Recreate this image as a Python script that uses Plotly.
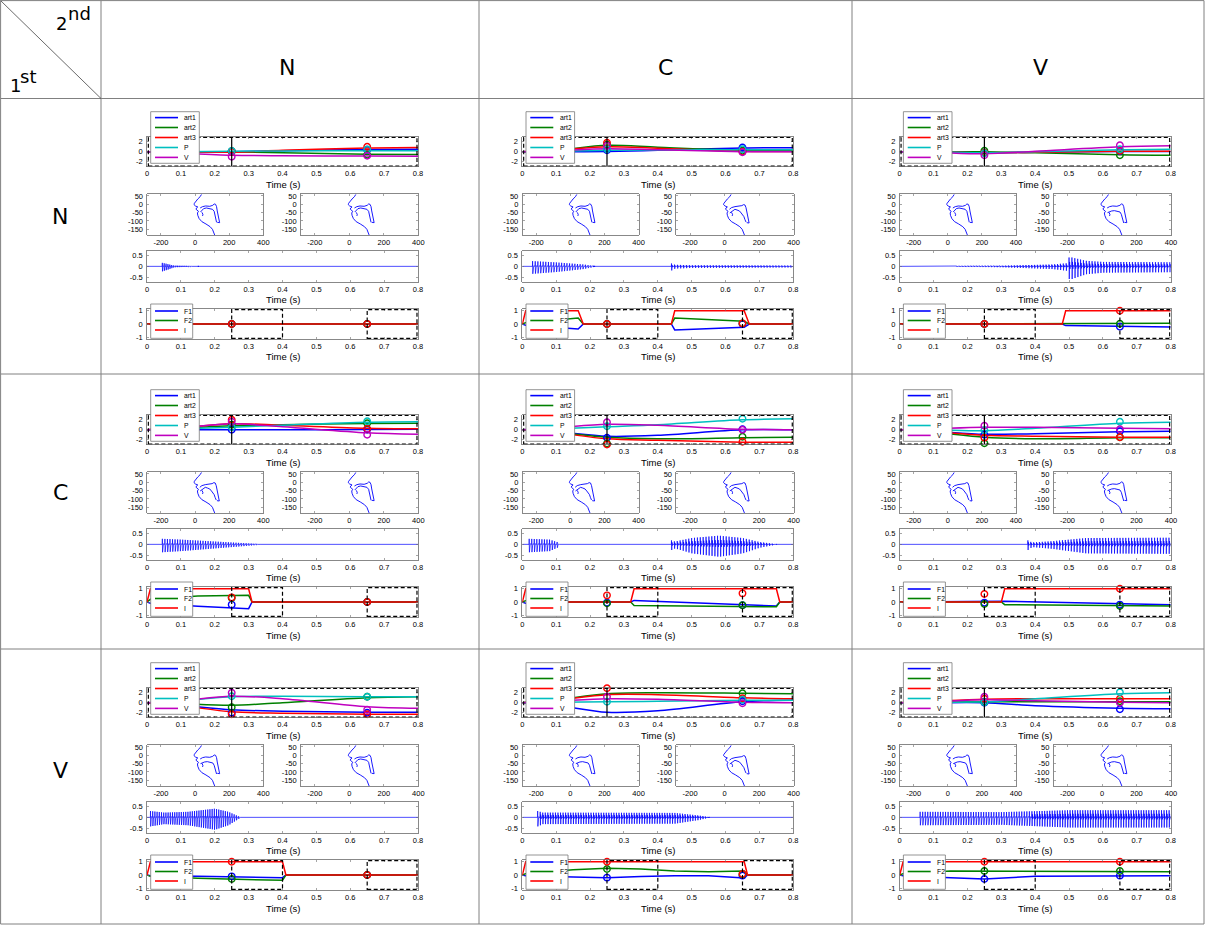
import numpy as np
import plotly.graph_objects as go

W, H = 1206, 931

SOUNDS = ['N', 'C', 'V']
PANELS = [r + c for r in SOUNDS for c in SOUNDS]   # first sound = row, second = column

# ---------------- articulatory trajectories ----------------
TRAJ_T = [0, 0.1, 0.25, 0.4, 0.65, 0.8]
ART1 = {'NN': [0, 0, 0.0, 0.2, 0.45, 0.5], 'NC': [0, 0, 0.05, 0.3, 0.75, 0.8], 'NV': [0, 0, -0.2, -0.1, 0.05, 0.05],
        'CN': [0, 0, 0.0, 0.0, 0.05, 0.1], 'CC': [0, -0.4, -1.3, -1.1, 0.0, 0.0], 'CV': [0, -0.3, -0.9, -0.8, -0.4, -0.3],
        'VN': [0, -0.5, -1.4, -1.7, -1.9, -1.9], 'VC': [0, -0.5, -1.9, -1.6, 0.2, 0.5], 'VV': [0, 0, 0.0, -0.6, -1.1, -1.2]}
ART2 = {'NN': [0, 0, 0, -0.2, -0.5, -0.55], 'NC': [0, 0.3, 1.3, 0.9, 0.3, 0.2], 'NV': [0, 0, 0, -0.2, -0.6, -0.7],
        'CN': [0, 0.3, 0.8, 1.0, 1.25, 1.3], 'CC': [0, -0.5, -1.5, -1.8, -1.6, -1.5], 'CV': [0, -0.5, -1.5, -1.8, -1.6, -1.6],
        'VN': [0, -0.2, -0.5, 0.0, 1.0, 1.2], 'VC': [0, 0.6, 1.8, 2.0, 1.9, 1.8], 'VV': [0, 0.1, 0.2, 0.2, 0.2, 0.2]}
ART3 = {'NN': [0, 0, -0.1, 0.3, 0.75, 0.85], 'NC': [0, 0.3, 1.0, 0.7, 0.1, 0.05], 'NV': [0, 0, -0.2, -0.1, 0.1, 0.1],
        'CN': [0, 0.4, 1.2, 0.9, 0.3, 0.2], 'CC': [0, -0.6, -1.8, -2.1, -2.5, -2.5], 'CV': [0, -0.4, -1.1, -1.3, -1.5, -1.5],
        'VN': [0, -0.6, -1.8, -2.1, -2.3, -2.3], 'VC': [0, 0.5, 1.6, 1.6, 1.0, 0.8], 'VV': [0, 0.3, 0.7, 0.8, 0.8, 0.8]}
PV = {'NN': [0, 0, 0.1, 0.15, 0.2, 0.2], 'NC': [0, 0.1, 0.3, 0.35, 0.4, 0.4], 'NV': [0, 0, -0.2, 0.0, 0.4, 0.5],
      'CN': [0, 0.2, 0.5, 0.9, 1.5, 1.6], 'CC': [0, 0.2, 0.6, 1.0, 2.0, 2.2], 'CV': [0, 0, -0.2, 0.3, 1.3, 1.5],
      'VN': [0, 0.4, 1.2, 1.3, 1.2, 1.2], 'VC': [0, 0.1, 0.2, 0.3, 0.5, 0.5], 'VV': [0, 0.1, 0.2, 0.8, 1.8, 2.0]}
VV_ = {'NN': [0, -0.3, -0.7, -0.8, -0.85, -0.9], 'NC': [0, 0.2, 0.6, 0.4, 0.0, 0.0], 'NV': [0, -0.1, -0.4, 0.1, 1.0, 1.2],
       'CN': [0, 0.4, 1.2, 0.6, -0.6, -0.9], 'CC': [0, 0.4, 1.1, 0.9, 0.1, 0.0], 'CV': [0, 0.2, 0.5, 0.5, 0.3, 0.2],
       'VN': [0, 0.4, 1.3, 0.8, -0.8, -1.1], 'VC': [0, 0.3, 0.8, 0.7, 0.1, 0.0], 'VV': [0, 0.2, 0.6, 0.4, 0.1, 0.0]}

CIRC_T = [0.25, 0.65]
ART1_C = {'NN': [0.1, 0.4], 'NC': [0.3, 0.85], 'NV': [-0.2, 0.1], 'CN': [0.0, 0.05], 'CC': [-1.6, 0.1],
          'CV': [-1.0, -0.3], 'VN': [-2.0, -2.0], 'VC': [-3.4, 0.3], 'VV': [0.0, -1.3]}
ART2_C = {'NN': [0.1, -0.6], 'NC': [1.4, 0.2], 'NV': [0.2, -0.7], 'CN': [1.0, 1.3], 'CC': [-2.75, -1.4],
          'CV': [-2.7, -1.5], 'VN': [-0.9, 1.2], 'VC': [3.15, 1.9], 'VV': [0.2, 0.3]}
ART3_C = {'NN': [0.0, 1.0], 'NC': [1.8, 0.0], 'NV': [-0.2, 0.2], 'CN': [2.0, 0.2], 'CC': [-2.95, -2.4],
          'CV': [-1.6, -1.5], 'VN': [-2.3, -2.3], 'VC': [2.9, 0.9], 'VV': [0.8, 0.8]}
PV_C = {'NN': [0.15, 0.45], 'NC': [0.5, 0.5], 'NV': [-0.3, 0.5], 'CN': [0.5, 1.7], 'CC': [0.7, 2.2],
        'CV': [-0.1, 1.6], 'VN': [1.3, 1.2], 'VC': [0.2, 0.6], 'VV': [0.1, 2.1]}
VV_C = {'NN': [-1.0, -0.8], 'NC': [1.2, -0.1], 'NV': [-0.7, 1.3], 'CN': [1.6, -1.0], 'CC': [1.5, 0.0],
        'CV': [0.8, 0.1], 'VN': [2.0, -1.4], 'VC': [1.2, -0.1], 'VV': [1.2, 0.0]}

# ---------------- formants / intensity ----------------
FORM_T = {'NN': [0, 0.8],
          'NC': [0, 0.01, 0.165, 0.18, 0.44, 0.45, 0.655, 0.67, 0.8],
          'NV': [0, 0.48, 0.49, 0.8],
          'CN': [0, 0.01, 0.15, 0.3, 0.31, 0.8],
          'CC': [0, 0.01, 0.11, 0.12, 0.32, 0.33, 0.75, 0.76, 0.8],
          'CV': [0, 0.3, 0.31, 0.8],
          'VN': [0, 0.01, 0.15, 0.25, 0.4, 0.41, 0.8],
          'VC': [0, 0.01, 0.15, 0.25, 0.35, 0.45, 0.55, 0.64, 0.655, 0.665, 0.8],
          'VV': [0, 0.01, 0.15, 0.25, 0.4, 0.8]}
FORM_F1 = {'NN': [0, 0], 'NC': [0, -0.1, -0.38, 0, 0, -0.45, -0.25, 0, 0], 'NV': [0, 0, -0.12, -0.22],
           'CN': [0, -0.1, -0.32, -0.5, 0, 0], 'CC': [0, -0.1, -0.2, 0, 0, 0.12, -0.3, 0, 0], 'CV': [0, 0, 0.05, -0.2],
           'VN': [0, -0.05, -0.1, -0.12, -0.2, 0, 0], 'VC': [0, -0.05, -0.15, -0.2, -0.12, -0.05, -0.05, -0.2, -0.22, 0, 0],
           'VV': [0, -0.05, -0.2, -0.3, -0.1, -0.05]}
FORM_F2 = {'NN': [0, 0], 'NC': [0, 0.1, 0.45, 0, 0, 0.45, 0.2, 0, 0], 'NV': [0, 0, 0.0, 0.05],
           'CN': [0, 0.2, 0.45, 0.5, 0, 0], 'CC': [0, 0.1, 0.2, 0, 0, -0.26, -0.36, 0, 0], 'CV': [0, 0, -0.2, -0.3],
           'VN': [0, -0.1, -0.25, -0.3, -0.4, 0, 0], 'VC': [0, 0.1, 0.4, 0.5, 0.45, 0.3, 0.25, 0.3, 0.3, 0, 0],
           'VV': [0, 0.1, 0.3, 0.3, 0.25, 0.25]}
FORM_I = {'NN': [0, 0], 'NC': [0, 1, 1, 0, 0, 1, 1, 0, 0], 'NV': [0, 0, 1, 1],
          'CN': [0, 1, 1, 1, 0, 0], 'CC': [0, 1, 1, 0, 0, 1, 1, 0, 0], 'CV': [0, 0, 1, 1],
          'VN': [0, 1, 1, 1, 1, 0, 0], 'VC': [0, 1, 1, 1, 1, 1, 1, 1, 1, 0, 0],
          'VV': [0, 1, 1, 1, 1, 1]}
F1_C = {'NN': [0, 0], 'NC': [0, 0.0], 'NV': [0, -0.2], 'CN': [-0.2, 0], 'CC': [-0.05, -0.25],
        'CV': [-0.05, -0.2], 'VN': [-0.1, 0], 'VC': [-0.2, -0.05], 'VV': [-0.3, -0.05]}
F2_C = {'NN': [0, 0], 'NC': [0, 0.05], 'NV': [0, 0.02], 'CN': [0.3, 0], 'CC': [-0.1, -0.25],
        'CV': [-0.15, -0.3], 'VN': [-0.3, 0], 'VC': [0.45, 0.05], 'VV': [0.3, 0.3]}
I_C = {'NN': [0, 0], 'NC': [0, 0.05], 'NV': [0, 1.0], 'CN': [0.35, 0], 'CC': [0.5, 0.65],
       'CV': [0.6, 1.0], 'VN': [1.0, 0], 'VC': [1.0, 0.08], 'VV': [1.0, 1.0]}

# ---------------- waveform envelopes: (start, end, pitch period, [(t, amplitude)]) ----------------
WAVE_ENV = {
    'NN': [(0.045, 0.15, 0.0055, [(0.045, 0.22), (0.06, 0.15), (0.08, 0.04), (0.15, 0.01)])],
    'NC': [(0.03, 0.21, 0.0078, [(0.03, 0.33), (0.1, 0.25), (0.18, 0.12), (0.21, 0.03)]),
           (0.44, 0.8, 0.0088, [(0.44, 0.18), (0.45, 0.1), (0.5, 0.07), (0.8, 0.05)])],
    'NV': [(0.1, 0.8, 0.0085, [(0.1, 0.01), (0.3, 0.04), (0.45, 0.12), (0.495, 0.2), (0.5, 0.6),
                               (0.55, 0.35), (0.6, 0.28), (0.8, 0.26)])],
    'CN': [(0.045, 0.335, 0.0075, [(0.045, 0.35), (0.1, 0.3), (0.2, 0.18), (0.3, 0.06), (0.335, 0.01)])],
    'CC': [(0.02, 0.11, 0.0075, [(0.02, 0.35), (0.08, 0.3), (0.11, 0.1)]),
           (0.44, 0.75, 0.0085, [(0.44, 0.25), (0.45, 0.18), (0.5, 0.4), (0.58, 0.55), (0.65, 0.4),
                                 (0.7, 0.15), (0.75, 0.01)])],
    'CV': [(0.1, 0.2, 0.0085, [(0.1, 0.01), (0.2, 0.01)]),
           (0.378, 0.8, 0.0085, [(0.378, 0.25), (0.39, 0.12), (0.45, 0.2), (0.55, 0.4), (0.8, 0.42)])],
    'VN': [(0.01, 0.275, 0.0065, [(0.01, 0.4), (0.05, 0.3), (0.12, 0.35), (0.2, 0.55), (0.24, 0.35), (0.275, 0.02)])],
    'VC': [(0.045, 0.55, 0.0075, [(0.045, 0.4), (0.06, 0.3), (0.45, 0.28), (0.52, 0.12), (0.55, 0.02)])],
    'VV': [(0.06, 0.8, 0.0075, [(0.06, 0.35), (0.3, 0.33), (0.5, 0.45), (0.8, 0.45)])],
}
PULSE_SHAPE = [(0.0, 0.0), (0.05, 0.7), (0.13, -1.0), (0.24, 0.35), (0.37, -0.2), (0.52, 0.08), (0.7, -0.02)]

# ---------------- vocal tract outlines ----------------
FACE_X = [38, 30, 16, 4, -4, -6, 2, 16, 8, 6, 14, 20, 14, 16, 24, 40, 64, 88, 102, 110, 115]
FACE_Y = [60, 46, 32, 18, 6, -2, -10, -16, -22, -30, -36, -42, -52, -66, -86, -104, -118, -134, -150, -168, -184]
PAL_X = {'N': [30, 44, 62, 86, 104, 112, 120, 126, 130, 136, 142, 144, 130],
         'C': [28, 40, 60, 84, 100, 110, 118, 124, 128, 134, 140, 142, 128],
         'V': [30, 44, 62, 86, 104, 112, 120, 126, 130, 136, 142, 144, 130]}
PAL_Y = {'N': [-22, -14, -10, -12, -6, 2, 0, -14, -40, -72, -98, -110, -108],
         'C': [-30, -20, -14, -12, -8, -2, -4, -20, -46, -76, -100, -112, -110],
         'V': [-22, -14, -10, -12, -6, 2, 0, -14, -40, -72, -98, -110, -108]}
TONG_X = {'N': [32, 40, 50, 66, 86, 102, 112, 116, 120, 124, 126],
          'C': [30, 38, 48, 60, 72, 86, 96, 104, 112, 118, 124],
          'V': [32, 42, 56, 72, 90, 104, 112, 118, 122, 125, 126]}
TONG_Y = {'N': [-46, -34, -26, -22, -24, -30, -42, -60, -82, -100, -108],
          'C': [-52, -46, -36, -30, -34, -40, -52, -60, -74, -92, -106],
          'V': [-50, -44, -40, -38, -40, -46, -60, -80, -98, -108, -112]}
JAW_X = [40, 46, 44]
JAW_Y = [-48, -60, -70]

TIME_TICKS = [0, 0.1, 0.2, 0.3, 0.4, 0.5, 0.6, 0.7, 0.8]
TIME_LABELS = ['0', '0.1', '0.2', '0.3', '0.4', '0.5', '0.6', '0.7', '0.8']

BLUE, GREEN, RED, CYAN, MAG = '#0000ff', '#008000', '#ff0000', '#00bfbf', '#bf00bf'
FONT = 'Liberation Sans, Arial, sans-serif'

# layout geometry (px, panel row 1 / col 1), offsets per column / row
R_TRAJ = (147, 137, 418, 166.5)
R_VTL = (147.3, 194.3, 263.3, 235)
R_VTR = (301, 194.3, 418.3, 235)
R_WAVE = (147, 251, 418, 281.7)
R_FORM = (147, 309, 418, 339)
COL_DX = [0, 375.3, 752.7]
ROW_DY = [0, 278, 551]

fig = go.Figure()
layout = dict(width=W, height=H, margin=dict(l=0, r=0, t=0, b=0, pad=0, autoexpand=False),
              paper_bgcolor='white', plot_bgcolor='white', showlegend=False)
shapes, annots = [], []

AX = dict(showline=True, linecolor='#6a6a6a', linewidth=0.8, mirror='allticks', ticks='inside', ticklen=2,
          tickwidth=0.6, tickcolor='#6a6a6a', showgrid=False, zeroline=False, fixedrange=True,
          tickfont=dict(size=7.5, family=FONT, color='#000000'))
counter = [0]


def px(x, y):
    return x / W, 1 - y / H


def new_axes(rect, dx, dy, xr, yr, xt, xtt, yt, ytt):
    counter[0] += 1
    k = counter[0]
    s = '' if k == 1 else str(k)
    x0, y0, x1, y1 = rect[0] + dx, rect[1] + dy, rect[2] + dx, rect[3] + dy
    layout['xaxis' + s] = dict(domain=[x0 / W, x1 / W], range=xr, anchor='y' + s, tickvals=xt, ticktext=xtt, **AX)
    layout['yaxis' + s] = dict(domain=[1 - y1 / H, 1 - y0 / H], range=yr, anchor='x' + s, tickvals=yt,
                               ticktext=ytt, ticklabelstandoff=2, **AX)
    return 'x' + s, 'y' + s


def line_px(x0, y0, x1, y1, color, width, dash=None):
    a, b = px(x0, y0)
    c, d = px(x1, y1)
    ln = dict(color=color, width=width)
    if dash:
        ln['dash'] = dash
    shapes.append(dict(type='line', xref='paper', yref='paper', x0=a, y0=b, x1=c, y1=d, line=ln))


def text_px(x, y, txt, size, family=FONT, xanchor='center', yanchor='middle'):
    a, b = px(x, y)
    annots.append(dict(xref='paper', yref='paper', x=a, y=b, text=txt, showarrow=False, xanchor=xanchor,
                       yanchor=yanchor, font=dict(size=size, family=family, color='black')))


def legend_box(x0, y0, x1, y1, items, rows, dx, dy):
    a, b = px(x0 + dx, y1 + dy)
    c, d = px(x1 + dx, y0 + dy)
    shapes.append(dict(type='rect', xref='paper', yref='paper', x0=a, y0=b, x1=c, y1=d,
                       fillcolor='white', line=dict(color='#7a7a7a', width=0.8)))
    for (lab, col), ry in zip(items, rows):
        line_px(155 + dx, ry + dy, 178 + dx, ry + dy, col, 1.6)
        text_px(182.3 + dx, ry + dy, lab, 6.8, xanchor='left')


def dashed_rect(xa, ya, x0, x1, y0, y1):
    shapes.append(dict(type='rect', xref=xa, yref=ya, x0=x0, x1=x1, y0=y0, y1=y1,
                       line=dict(color='black', width=1.2, dash='4px,2.5px')))


def build_wave(segs):
    xs, ys = [0.0], [0.0]
    for ts, te, per, env in segs:
        et = [e[0] for e in env]
        ea = [e[1] for e in env]
        t = ts
        while t < te:
            a = float(np.interp(t, et, ea))
            for frac, rel in PULSE_SHAPE:
                xs.append(t + frac * per)
                ys.append(rel * a)
            t += per
        xs.append(te)
        ys.append(0.0)
    xs.append(0.8)
    ys.append(0.0)
    return xs, ys


def vt_xy(sound):
    xs = FACE_X + [None] + PAL_X[sound] + [None] + TONG_X[sound] + [None] + JAW_X
    ys = FACE_Y + [None] + PAL_Y[sound] + [None] + TONG_Y[sound] + [None] + JAW_Y
    return xs, ys


for ri, rs in enumerate(SOUNDS):
    for ci, cs in enumerate(SOUNDS):
        p = rs + cs
        dx, dy = COL_DX[ci], ROW_DY[ri]

        # --- trajectories
        xa, ya = new_axes(R_TRAJ, dx, dy, [0, 0.8], [-2.95, 2.95], TIME_TICKS, TIME_LABELS,
                          [-2, 0, 2], ['-2', '0', '2'])
        for data, col in [(ART1, BLUE), (ART2, GREEN), (ART3, RED), (PV, CYAN), (VV_, MAG)]:
            fig.add_trace(go.Scatter(x=TRAJ_T, y=data[p], mode='lines', xaxis=xa, yaxis=ya, hoverinfo='skip',
                                     line=dict(color=col, width=1.5, shape='spline', smoothing=0.9)))
        for data, col in [(ART1_C, BLUE), (ART2_C, GREEN), (ART3_C, RED), (PV_C, CYAN), (VV_C, MAG)]:
            fig.add_trace(go.Scatter(x=CIRC_T, y=data[p], mode='markers', xaxis=xa, yaxis=ya, hoverinfo='skip',
                                     cliponaxis=False,
                                     marker=dict(symbol='circle-open', size=6.5, color=col,
                                                 line=dict(color=col, width=1.4))))
        dashed_rect(xa, ya, 0.004, 0.797, -2.85, 2.85)
        shapes.append(dict(type='line', xref=xa, yref=ya, x0=0.25, x1=0.25, y0=-2.85, y1=2.85,
                           line=dict(color='black', width=1.2)))
        legend_box(150.7, 111.7, 199.3, 163.3,
                   [('art1', BLUE), ('art2', GREEN), ('art3', RED), ('P', CYAN), ('V', MAG)],
                   [117.6, 127.5, 137.5, 147.5, 157.4], dx, dy)
        text_px(282.5 + dx, 184 + dy, 'Time (s)', 9.5)

        # --- vocal tract shapes
        for rect, snd in [(R_VTL, rs), (R_VTR, cs)]:
            xa2, ya2 = new_axes(rect, dx, dy, [-280, 400], [-184, 60], [-200, 0, 200, 400],
                                ['-200', '0', '200', '400'], [50, 0, -50, -100, -150],
                                ['50', '0', '-50', '-100', '-150'])
            vx, vy = vt_xy(snd)
            fig.add_trace(go.Scatter(x=vx, y=vy, mode='lines', xaxis=xa2, yaxis=ya2, hoverinfo='skip',
                                     line=dict(color=BLUE, width=0.9)))

        # --- waveform
        xa3, ya3 = new_axes(R_WAVE, dx, dy, [0, 0.8], [-0.68, 0.68], TIME_TICKS, TIME_LABELS,
                            [-0.5, 0, 0.5], ['-0.5', '0', '0.5'])
        wx, wy = build_wave(WAVE_ENV[p])
        fig.add_trace(go.Scatter(x=wx, y=wy, mode='lines', xaxis=xa3, yaxis=ya3, hoverinfo='skip',
                                 line=dict(color=BLUE, width=0.7)))
        text_px(282.5 + dx, 299.3 + dy, 'Time (s)', 9.5)

        # --- formants
        xa4, ya4 = new_axes(R_FORM, dx, dy, [0, 0.8], [-1.13, 1.13], TIME_TICKS, TIME_LABELS,
                            [-1, 0, 1], ['-1', '0', '1'])
        for data, col in [(FORM_F1, BLUE), (FORM_F2, GREEN), (FORM_I, RED)]:
            fig.add_trace(go.Scatter(x=FORM_T[p], y=data[p], mode='lines', xaxis=xa4, yaxis=ya4,
                                     hoverinfo='skip', line=dict(color=col, width=1.5)))
        for data, col in [(F1_C, BLUE), (F2_C, GREEN), (I_C, RED)]:
            fig.add_trace(go.Scatter(x=CIRC_T, y=data[p], mode='markers', xaxis=xa4, yaxis=ya4,
                                     hoverinfo='skip', cliponaxis=False,
                                     marker=dict(symbol='circle-open', size=6.5, color=col,
                                                 line=dict(color=col, width=1.4))))
        dashed_rect(xa4, ya4, 0.25, 0.4, -1.09, 1.09)
        dashed_rect(xa4, ya4, 0.65, 0.797, -1.09, 1.09)
        legend_box(150.7, 304, 192.7, 338.3, [('F1', BLUE), ('F2', GREEN), ('I', RED)],
                   [311, 320.5, 330], dx, dy)
        text_px(282.5 + dx, 357 + dy, 'Time (s)', 9.5)

# ---------------- table grid and headers ----------------
GRID_C = '#808080'
for y in [0.6, 98.5, 374, 649, 924]:
    line_px(0.6, y, 1204, y, GRID_C, 1)
for x in [0.6, 101, 479, 852, 1204]:
    line_px(x, 0.6, x, 924, GRID_C, 1)
line_px(0.6, 0.6, 101, 98.5, '#444444', 0.8)

HDR = 'DejaVu Sans'
COL_HDR_X = [287, 665, 1040]
ROW_HDR_Y = [217, 492, 770]
for s, x in zip(SOUNDS, COL_HDR_X):
    text_px(x, 68, s, 22, family=HDR)
for s, y in zip(SOUNDS, ROW_HDR_Y):
    text_px(60, y, s, 22, family=HDR)
text_px(54, 23.1, '2', 18, family=HDR, xanchor='left')
text_px(65.5, 13.8, 'nd', 18, family=HDR, xanchor='left')
text_px(7.5, 85.5, '1', 18, family=HDR, xanchor='left')
text_px(18, 76.8, 'st', 18, family=HDR, xanchor='left')

layout['shapes'] = shapes
layout['annotations'] = annots
fig.update_layout(**layout)

fig.write_html('out.html', config={'displayModeBar': False, 'staticPlot': True},
               post_script="document.body.style.margin='0px';document.body.style.overflow='hidden';")
